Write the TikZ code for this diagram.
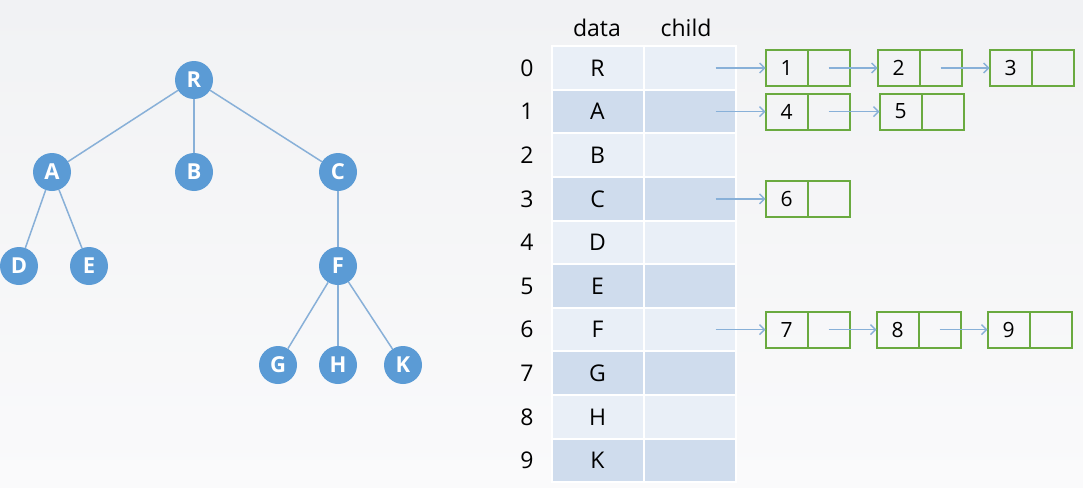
\documentclass[tikz,border=0pt]{standalone}
\usepackage{fontspec}
\setmainfont{Open Sans}
\usepackage{tikz}
\usetikzlibrary{arrows.meta,positioning}
\definecolor{vblue}{RGB}{91,155,213}
\definecolor{eblue}{RGB}{136,176,216}
\definecolor{rowlt}{RGB}{233,239,247}
\definecolor{rowdk}{RGB}{207,220,237}
\definecolor{lgreen}{RGB}{106,170,64}
\definecolor{bgtop}{RGB}{241,242,244}
\definecolor{bgbot}{RGB}{250,250,251}
\tikzstyle{vertex} = [circle, fill=vblue, minimum size=38pt, inner sep=0pt,
    text=white, font=\fontsize{22}{24}\selectfont\bfseries]
\tikzstyle{edge} = [draw=eblue, line width=1.5pt]
\tikzstyle{cell} = [rectangle, draw=white, line width=2pt, outer sep=0pt,
    minimum width=92pt, minimum height=43.6pt, inner sep=0pt,
    font=\fontsize{23}{26}\selectfont]
\tikzstyle{idx} = [font=\fontsize{23}{26}\selectfont, inner sep=0pt]
\tikzstyle{fld} = [rectangle, draw=lgreen, line width=2pt, outer sep=0pt,
    minimum width=42pt, minimum height=36pt, inner sep=0pt,
    font=\fontsize{21}{24}\selectfont]
\tikzstyle{link} = [draw=eblue, line width=1.4pt, -{Straight Barb[length=5pt,width=10pt]}]

\begin{document}
\begin{tikzpicture}[x=1pt, y=-1pt]
    % Background
    \shade [top color=bgtop, bottom color=bgbot] (0,0) rectangle (1083,487);
    \useasboundingbox (0,0) rectangle (1083,487);

    % Tree
    \node [vertex] (R) at (194,80) {R};
    \node [vertex, below of=R, node distance=92pt] (B) {B};
    \node [vertex, left of=B, node distance=142pt] (A) {A};
    \node [vertex, right of=B, node distance=144pt] (C) {C};
    \node [vertex, below of=A, node distance=94pt, xshift=-33pt] (D) {D};
    \node [vertex, below of=A, node distance=94pt, xshift=37pt] (E) {E};
    \node [vertex, below of=C, node distance=94pt] (F) {F};
    \node [vertex, below of=F, node distance=99pt] (H) {H};
    \node [vertex, left of=H, node distance=60pt] (G) {G};
    \node [vertex, right of=H, node distance=65pt] (K) {K};

    \path [edge] (R) -- (A);
    \path [edge] (R) -- (B);
    \path [edge] (R) -- (C);
    \path [edge] (A) -- (D);
    \path [edge] (A) -- (E);
    \path [edge] (C) -- (F);
    \path [edge] (F) -- (G);
    \path [edge] (F) -- (H);
    \path [edge] (F) -- (K);

    % Table
    \node [idx] (hdata) at (597,28) {data};
    \node [idx] (hchild) at (686,28) {child};
    \foreach \i/\d/\f in {0/R/rowlt,1/A/rowdk,2/B/rowlt,3/C/rowdk,4/D/rowlt,
                          5/E/rowdk,6/F/rowlt,7/G/rowdk,8/H/rowlt,9/K/rowdk}{
        \node [cell, fill=\f] (d\i) at (597.5,68+43.6*\i) {\d};
        \node [cell, fill=\f, right=0pt of d\i] (c\i) {};
        \node [idx] (i\i) at (527,68+43.6*\i) {\i};
    }

    % Child lists
    \node [fld, right=30pt of c0] (n1) {1};
    \node [fld, right=0pt of n1] (p1) {};
    \node [fld, right=28pt of p1] (n2) {2};
    \node [fld, right=0pt of n2] (p2) {};
    \node [fld, right=28pt of p2] (n3) {3};
    \node [fld, right=0pt of n3] (p3) {};

    \node [fld, right=30pt of c1] (n4) {4};
    \node [fld, right=0pt of n4] (p4) {};
    \node [fld, right=30pt of p4] (n5) {5};
    \node [fld, right=0pt of n5] (p5) {};

    \node [fld, right=30pt of c3] (n6) {6};
    \node [fld, right=0pt of n6] (p6) {};

    \node [fld, right=30pt of c6] (n7) {7};
    \node [fld, right=0pt of n7] (p7) {};
    \node [fld, right=27pt of p7] (n8) {8};
    \node [fld, right=0pt of n8] (p8) {};
    \node [fld, right=27pt of p8] (n9) {9};
    \node [fld, right=0pt of n9] (p9) {};

    % Draw links
    \path [link, shorten <=26pt] (c0.center) -- (n1);
    \path [link] (p1.center) -- (n2);
    \path [link] (p2.center) -- (n3);
    \path [link, shorten <=26pt] (c1.center) -- (n4);
    \path [link] (p4.center) -- (n5);
    \path [link, shorten <=26pt] (c3.center) -- (n6);
    \path [link, shorten <=26pt] (c6.center) -- (n7);
    \path [link] (p7.center) -- (n8);
    \path [link] (p8.center) -- (n9);

\end{tikzpicture}
\end{document}
